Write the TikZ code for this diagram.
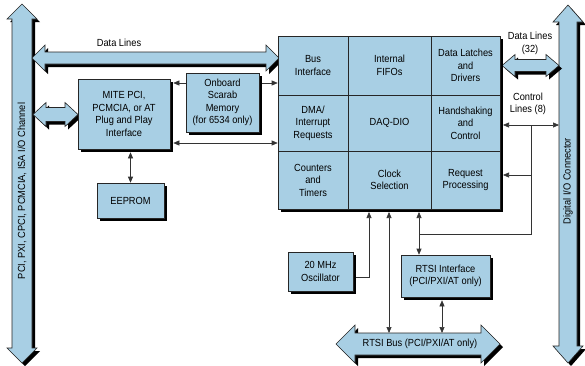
\documentclass[tikz,border=0pt]{standalone}
\usepackage{fontspec}
\setmainfont[FakeStretch=0.9]{Liberation Sans}
\usetikzlibrary{arrows.meta,shadows}
\definecolor{boxblue}{RGB}{168,207,228}
\newcommand\fs{\fontsize{10.3}{12.5}\selectfont}
% horizontal double block arrow: x1 x2 yc shafthalf headhalf headlen
\newcommand\HDbl[6]{%
  \fill[black,shift={(3,3)}] (#1,#3) -- ({#1+#6},{#3-#5}) -- ({#1+#6},{#3-#4}) -- ({#2-#6},{#3-#4}) -- ({#2-#6},{#3-#5}) -- (#2,#3) -- ({#2-#6},{#3+#5}) -- ({#2-#6},{#3+#4}) -- ({#1+#6},{#3+#4}) -- ({#1+#6},{#3+#5}) -- cycle;
  \filldraw[bigarrow] (#1,#3) -- ({#1+#6},{#3-#5}) -- ({#1+#6},{#3-#4}) -- ({#2-#6},{#3-#4}) -- ({#2-#6},{#3-#5}) -- (#2,#3) -- ({#2-#6},{#3+#5}) -- ({#2-#6},{#3+#4}) -- ({#1+#6},{#3+#4}) -- ({#1+#6},{#3+#5}) -- cycle;}
% vertical double block arrow: xc y1 y2 shafthalf headhalf headlen
\newcommand\VDbl[6]{%
  \fill[black,shift={(3,3)}] (#1,#2) -- ({#1+#5},{#2+#6}) -- ({#1+#4},{#2+#6}) -- ({#1+#4},{#3-#6}) -- ({#1+#5},{#3-#6}) -- (#1,#3) -- ({#1-#5},{#3-#6}) -- ({#1-#4},{#3-#6}) -- ({#1-#4},{#2+#6}) -- ({#1-#5},{#2+#6}) -- cycle;
  \filldraw[bigarrow] (#1,#2) -- ({#1+#5},{#2+#6}) -- ({#1+#4},{#2+#6}) -- ({#1+#4},{#3-#6}) -- ({#1+#5},{#3-#6}) -- (#1,#3) -- ({#1-#5},{#3-#6}) -- ({#1-#4},{#3-#6}) -- ({#1-#4},{#2+#6}) -- ({#1-#5},{#2+#6}) -- cycle;}
\begin{document}
\begin{tikzpicture}[x=1pt,y=-1pt,
  box/.style={draw=black!85, line width=0.6pt, fill=boxblue, align=center, inner sep=1pt, font=\fs,
    drop shadow={shadow xshift=3pt, shadow yshift=-3pt, fill=black, opacity=1}},
  cell/.style={draw=black!85, line width=0.6pt, fill=boxblue, align=center, inner sep=1pt, font=\fs},
  lbl/.style={font=\fs, align=center, inner sep=0pt},
  arr/.style={draw=black!80, line width=0.6pt, -{Triangle[length=6pt,width=5pt]}},
  darr/.style={draw=black!80, line width=0.6pt, {Triangle[length=6pt,width=5pt]}-{Triangle[length=6pt,width=5pt]}},
  ln/.style={draw=black!80, line width=0.6pt},
  bigarrow/.style={fill=boxblue, draw=black!85, line width=0.6pt, line join=miter}]
\useasboundingbox (0,0) rectangle (585,365);

% buses
\VDbl{22}{4}{363}{10}{15}{15}
\VDbl{568}{5}{363}{9}{15}{17}
\node[lbl, rotate=90] (lbus) at (22,191) {PCI, PXI, CPCI, PCMCIA, ISA I/O Channel};
\node[lbl, rotate=90] (rbus) at (568,181) {Digital I/O Connector};
\coordinate (rbusW) at (559,181);

% block arrows
\HDbl{32}{279}{58}{6}{13}{13}
\HDbl{33}{78}{114.5}{7}{12}{13}
\HDbl{502}{559}{65.5}{6}{11}{13}
\HDbl{336}{500}{344}{11}{19}{19}
\node[lbl] (dl) at (119,43) {Data Lines};
\node[lbl] (dl32) at (530,43.5) {Data Lines\\(32)};
\node[lbl] (cl) at (528,104) {Control\\Lines (8)};
\node[lbl] (rtsibus) at (420,344) {RTSI Bus (PCI/PXI/AT only)};

% boxes
\node[box, minimum width=92pt, minimum height=70pt] (mite) at (124,114) {MITE PCI,\\PCMCIA, or AT\\Plug and Play\\Interface};
\node[box, minimum width=73pt, minimum height=59pt] (scarab) at (222.5,102.5) {Onboard\\Scarab\\Memory\\(for 6534 only)};
\node[box, minimum width=67pt, minimum height=35pt] (eeprom) at (130.5,200.5) {EEPROM};
\node[box, minimum width=65pt, minimum height=39pt] (osc) at (320.5,271.5) {20 MHz\\Oscillator};
\node[box, minimum width=89pt, minimum height=42pt] (rtsi) at (445.5,276) {RTSI Interface\\(PCI/PXI/AT only)};

% main block
\fill[black] (281,39) rectangle (503,212);
\node[cell, minimum width=70pt, minimum height=59pt] (c11) at (313,65.5) {Bus\\Interface};
\node[cell, minimum width=83pt, minimum height=59pt] (c12) at (389.5,65.5) {Internal\\FIFOs};
\node[cell, minimum width=69pt, minimum height=59pt] (c13) at (465.5,65.5) {Data Latches\\and\\Drivers};
\node[cell, minimum width=70pt, minimum height=56pt] (c21) at (313,123) {DMA/\\Interrupt\\Requests};
\node[cell, minimum width=83pt, minimum height=56pt] (c22) at (389.5,123) {DAQ-DIO};
\node[cell, minimum width=69pt, minimum height=56pt] (c23) at (465.5,123) {Handshaking\\and\\Control};
\node[cell, minimum width=70pt, minimum height=58pt] (c31) at (313,180) {Counters\\and\\Timers};
\node[cell, minimum width=83pt, minimum height=58pt] (c32) at (389.5,180) {Clock\\Selection};
\node[cell, minimum width=69pt, minimum height=58pt] (c33) at (465.5,180) {Request\\Processing};

% helper coordinates
\coordinate (miteE) at ([xshift=3pt]mite.east);
\coordinate (miteS) at ([yshift=-3pt]mite.south);
\coordinate (scarabE) at ([xshift=3pt]scarab.east);
\coordinate (mainE) at (503,125);
\coordinate (mainS) at (389,212);
\coordinate (oscE) at ([xshift=3pt]osc.east);
\coordinate (rtsiS) at ([yshift=-3pt]rtsi.south);
\coordinate (rbusTop) at (389,333);
\coordinate (cv) at (531,125);
\coordinate (cb) at (531,234);
\coordinate (jn) at (419,234);

% thin connectors
\draw[arr] (scarab.west |- 0,83) -- (miteE |- 0,83);
\draw[arr] (scarabE |- 0,83) -- (c11.west |- 0,83);
\draw[darr] (miteE |- 0,143) -- (c21.west |- 0,143);
\draw[darr] (eeprom.north |- miteS) -- (eeprom.north);
\draw[darr] (mainE) -- (rbusW |- mainE);
\draw[ln] (cv) -- (cb) -- (jn);
\draw[arr] (cv |- 0,175) -- (mainE |- 0,175);
\draw[darr] (jn |- mainS) -- (jn |- rtsi.north);
\draw[arr] (oscE |- 0,277) -| (mainS -| 369,0);
\draw[darr] (mainS) -- (rbusTop);
\draw[darr] (rtsiS -| 442,0) -- (rbusTop -| 442,0);
\end{tikzpicture}
\end{document}
